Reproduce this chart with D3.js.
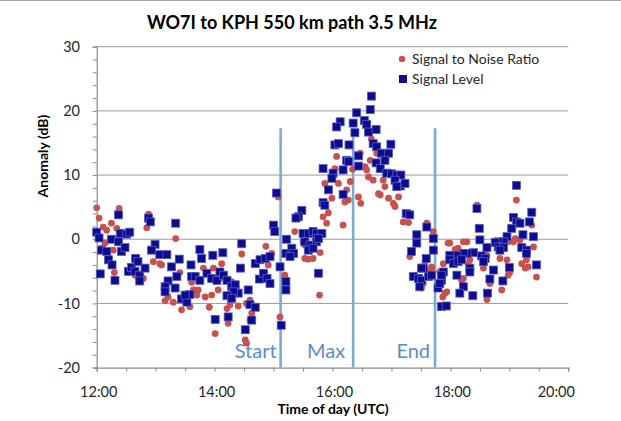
<!DOCTYPE html>
<html><head><meta charset="utf-8">
<script src="https://cdn.jsdelivr.net/npm/d3@7"></script>
<style>body{margin:0;background:#fff;} svg{display:block;}</style>
</head><body>
<script>
const chartTitle = "WO7I to KPH 550 km path 3.5 MHz";
const xTitle = "Time of day (UTC)";
const yTitle = "Anomaly (dB)";
const seriesNames = ["Signal to Noise Ratio", "Signal Level"];
const xTickValues = [12, 14, 16, 18, 20];
const xTickLabels = ["12:00", "14:00", "16:00", "18:00", "20:00"];
const yTickValues = [-20, -10, 0, 10, 20, 30];
const markerTimes = [15.12, 16.35, 17.74];
const markerLabels = ["Start", "Max", "End"];
const markerTop = 17.3;

// [time of day (h UTC), anomaly (dB)]
const snrData = [
[12.00,4.9],[12.04,3.3],[12.11,1.9],[12.17,1.4],[12.25,2.5],[12.34,1.7],[12.38,4.8],[12.42,1.1],
[12.88,3.9],[12.85,1.8],[13.34,0.1],[12.08,-1.4],[12.30,-5.2],[12.96,-3.5],[13.07,-3.8],[13.10,-4.0],
[12.65,-5.6],[12.79,-6.1],[13.41,-5.2],[13.16,-9.6],[13.21,-9.0],[13.30,-9.8],[13.44,-11.0],[13.58,-10.5],
[13.61,-6.7],[14.87,-1.1],[14.46,-2.3],[14.12,-3.8],[13.98,-4.5],[13.81,-4.5],[14.09,-6.1],[13.72,-7.9],
[13.84,-9.0],[13.95,-8.7],[14.06,-7.9],[14.29,-6.6],[14.32,-7.9],[14.60,-9.5],[14.54,-10.0],[13.91,-10.6],
[14.21,-10.8],[14.26,-10.2],[14.40,-10.4],[14.63,-11.5],[14.60,-12.6],[14.01,-14.7],[14.23,-13.1],[14.52,-15.7],
[14.54,-16.2],[15.11,-12.1],[15.19,-5.6],[14.91,-4.0],[13.64,-7.9],[13.70,-8.7],[14.97,-2.2],[15.08,6.6],
[16.66,15.6],[16.75,13.4],[16.47,13.4],[16.07,12.9],[16.64,12.3],[16.55,11.3],[16.58,10.8],[16.61,9.7],
[16.34,10.9],[16.04,11.0],[16.16,10.8],[16.69,9.2],[16.86,9.2],[16.89,8.2],[16.81,6.9],[15.87,8.7],
[16.10,8.7],[16.30,9.0],[15.99,6.4],[16.24,7.7],[16.27,6.1],[16.44,6.6],[16.48,5.6],[16.95,6.4],
[16.78,7.1],[17.03,5.6],[17.06,5.1],[17.12,6.6],[15.84,3.5],[16.21,5.8],[15.90,2.5],[15.93,4.1],
[16.18,2.2],[15.36,1.2],[15.50,-0.4],[15.53,-0.9],[15.79,-2.1],[15.53,-3.0],[15.59,-3.1],[15.67,-3.0],
[15.78,-8.7],[17.20,2.7],[17.29,2.6],[17.71,1.2],[17.96,-0.6],[17.31,-2.7],[17.57,-3.5],[17.68,-4.5],
[17.88,-3.8],[17.82,-5.1],[17.91,-8.4],[17.87,-9.0],[17.54,-6.9],[19.12,6.1],[18.45,5.3],[17.60,2.5],
[19.38,2.2],[17.99,-0.6],[18.22,-0.4],[18.28,-0.4],[18.08,-1.6],[18.13,-1.4],[19.10,0.1],[19.18,-0.1],
[19.07,-0.4],[18.98,-0.4],[19.41,-1.2],[18.59,-2.1],[18.62,-2.5],[18.33,-3.2],[18.30,-3.8],[18.84,-3.0],
[18.96,-3.2],[19.29,-3.2],[19.21,-3.8],[19.27,-4.5],[19.32,-4.3],[18.56,-4.5],[19.01,-5.1],[18.98,-5.6],
[18.22,-6.1],[18.19,-6.4],[18.67,-6.9],[19.46,-5.9],[17.94,-8.2],[18.62,-9.4],[18.87,-7.9],[17.68,-4.3],
[17.65,-4.8],[17.51,-7.6],[12.28,-1.7],[12.14,-0.6]
];

const levelData = [
[12.37,3.8],[12.88,3.3],[13.34,2.5],[12.00,1.1],[12.04,0.2],[12.25,0.0],[12.37,-0.4],[12.40,0.9],
[12.51,0.8],[12.56,1.1],[12.08,-1.7],[12.17,-1.9],[12.20,-3.2],[12.26,-4.0],[12.42,-1.9],[12.48,-1.3],
[12.06,-5.4],[12.31,-6.4],[12.54,-5.0],[12.59,-4.4],[12.66,-3.0],[12.70,-3.5],[12.65,-5.0],[12.73,-5.6],
[12.73,-6.5],[12.82,-4.5],[12.99,-0.8],[12.93,-1.7],[13.07,-2.4],[13.19,-2.4],[13.27,-4.3],[13.40,-3.1],
[13.60,-4.0],[13.21,-6.5],[13.33,-7.6],[13.16,-7.4],[13.16,-8.2],[13.36,-5.8],[13.44,-9.3],[13.53,-9.8],
[13.58,-8.6],[13.61,-5.8],[12.91,2.7],[15.00,2.2],[15.02,1.2],[13.75,-1.6],[13.78,-3.0],[13.97,-2.5],
[14.14,-2.1],[14.46,-0.7],[13.67,-5.8],[13.75,-6.4],[13.87,-5.3],[13.95,-6.1],[14.04,-6.4],[14.09,-5.1],
[14.15,-5.6],[14.21,-6.4],[14.29,-7.4],[14.35,-7.1],[14.40,-8.4],[14.44,-4.5],[14.32,-8.2],[14.21,-8.8],
[14.29,-9.2],[14.57,-7.9],[14.69,-3.8],[14.77,-3.2],[14.86,-3.0],[14.94,-2.7],[14.76,-6.2],[14.83,-5.3],
[14.89,-6.1],[14.94,-6.9],[15.11,-4.3],[14.60,-10.2],[14.69,-10.6],[14.01,-12.5],[14.23,-12.1],[14.63,-12.6],
[14.52,-14.1],[15.13,-13.4],[13.50,-8.7],[15.21,-6.6],[15.21,-7.9],[15.21,-2.2],[15.05,7.2],[16.66,22.3],
[16.64,20.2],[16.41,19.7],[16.35,18.1],[16.13,18.3],[16.07,17.5],[16.54,18.5],[16.58,17.9],[16.61,16.7],
[16.38,16.6],[16.74,17.1],[16.04,14.7],[16.10,14.9],[16.28,14.7],[16.69,14.9],[16.75,14.4],[16.99,14.8],
[16.83,13.4],[16.95,13.4],[16.89,12.3],[16.24,12.3],[16.27,12.1],[16.44,13.0],[16.44,11.4],[16.74,11.9],
[16.81,11.0],[15.84,11.0],[16.01,10.3],[15.99,9.5],[16.18,10.8],[16.92,10.3],[17.00,10.2],[17.09,10.0],
[17.16,10.0],[17.06,9.2],[17.15,8.3],[17.09,8.2],[17.23,8.7],[15.93,7.7],[16.18,7.0],[15.84,5.7],
[15.87,5.3],[15.48,4.5],[15.42,3.5],[17.25,4.0],[17.31,3.8],[15.38,3.3],[15.50,0.9],[15.59,0.9],
[15.67,1.2],[15.73,0.9],[15.82,0.9],[15.22,0.0],[15.53,-0.4],[15.62,-0.9],[15.73,-0.4],[15.76,0.1],
[15.31,-1.4],[15.34,-2.2],[15.28,-2.7],[15.59,-1.7],[15.67,-1.4],[15.76,-5.3],[17.60,1.9],[17.71,0.1],
[17.71,-1.7],[17.43,0.7],[17.43,-0.6],[17.34,-1.9],[17.59,-3.0],[17.54,-4.5],[17.37,-5.8],[17.46,-6.1],
[17.51,-6.4],[17.63,-5.8],[17.68,-5.6],[17.48,-7.4],[17.88,-5.1],[17.85,-6.4],[17.79,-7.6],[17.85,-10.5],
[19.12,8.4],[18.45,4.8],[19.38,4.2],[19.34,2.7],[19.07,3.4],[19.12,2.7],[19.18,2.5],[19.04,1.7],
[18.49,1.7],[19.23,0.7],[19.41,0.4],[18.96,0.4],[18.90,-0.4],[18.81,-0.4],[18.76,-0.5],[18.50,-0.1],
[18.81,-1.2],[18.90,-1.3],[18.84,-1.7],[18.62,-1.3],[19.21,-1.3],[19.29,-1.7],[19.29,-2.2],[18.39,-2.1],
[18.28,-2.2],[18.22,-2.2],[18.11,-2.5],[17.99,-2.5],[18.53,-2.6],[18.59,-3.0],[17.99,-3.2],[18.05,-3.8],
[18.13,-3.5],[18.19,-3.2],[18.33,-4.5],[18.33,-5.1],[18.56,-3.5],[19.00,-4.4],[18.73,-4.8],[19.46,-4.0],
[17.51,-4.5],[17.85,-5.6],[17.82,-6.9],[18.11,-5.6],[18.67,-6.2],[18.89,-6.5],[18.22,-7.4],[18.16,-8.4],
[18.38,-8.8],[18.63,-8.4],[17.93,-10.4]
];

const W = 621, H = 421;
const font = "Lato, 'Open Sans', sans-serif";
const svg = d3.select("body").append("svg").attr("width", W).attr("height", H);

svg.append("line").attr("x1", 0).attr("x2", W).attr("y1", 0.5).attr("y2", 0.5)
  .attr("stroke", "#a6a6a6").attr("stroke-width", 1);

const x = d3.scaleLinear().domain([12, 20]).range([96.7, 568.3]);
const y = d3.scaleLinear().domain([-20, 30]).range([367.6, 46.7]);

// gridlines
svg.append("g").selectAll("line").data(yTickValues.filter(v => v > -20)).join("line")
  .attr("x1", x(12)).attr("x2", x(20)).attr("y1", d => y(d)).attr("y2", d => y(d))
  .attr("stroke", "#9a9a9a").attr("stroke-width", 1);

// y axis
const yAxis = svg.append("g").attr("transform", `translate(${x(12)},0)`)
  .call(d3.axisLeft(y).tickValues(d3.range(-20, 31, 2)).tickSize(4).tickFormat(""));
yAxis.select(".domain").attr("stroke", "#8c8c8c").attr("stroke-width", 1.2);
yAxis.selectAll(".tick line").attr("stroke", "#8c8c8c");
svg.append("g").selectAll("text").data(yTickValues).join("text")
  .attr("x", 80).attr("y", d => y(d)).attr("dy", "0.36em").attr("text-anchor", "end")
  .attr("font-family", font).attr("font-size", 14.5).attr("fill", "#262626").text(d => d);

// x axis
const xAxis = svg.append("g").attr("transform", `translate(0,${y(-20)})`)
  .call(d3.axisBottom(x).tickValues(d3.range(12, 20.01, 0.5)).tickSize(4).tickFormat(""));
xAxis.select(".domain").attr("stroke", "#8c8c8c").attr("stroke-width", 1.2);
xAxis.selectAll(".tick line").attr("stroke", "#8c8c8c");
svg.append("g").selectAll("text").data(xTickValues).join("text")
  .attr("x", (d, i) => x(d) + (i === xTickValues.length - 1 ? -12 : 2)).attr("y", 397).attr("text-anchor", "middle")
  .attr("font-family", font).attr("font-size", 14.5).attr("fill", "#262626").text((d, i) => xTickLabels[i]);

// marker lines
svg.append("g").selectAll("line").data(markerTimes).join("line")
  .attr("x1", d => x(d)).attr("x2", d => x(d)).attr("y1", y(markerTop)).attr("y2", y(-20))
  .attr("stroke", "#7eaad2").attr("stroke-width", 2.6);
svg.append("g").selectAll("text").data(markerTimes).join("text")
  .attr("x", (d, i) => x(d) - [4, 8, 5][i]).attr("y", 358).attr("text-anchor", "end")
  .attr("font-family", font).attr("font-size", 20).attr("fill", "#5b8dc8").text((d, i) => markerLabels[i]);

// series
svg.append("g").selectAll("circle").data(snrData).join("circle")
  .attr("cx", d => x(d[0])).attr("cy", d => y(d[1])).attr("r", 3.4)
  .attr("fill", "#c8504d");
const sq = 8;
svg.append("g").selectAll("rect").data(levelData).join("rect")
  .attr("x", d => x(d[0]) - sq / 2).attr("y", d => y(d[1]) - sq / 2)
  .attr("width", sq).attr("height", sq)
  .attr("fill", "#0c0c8e").attr("stroke", "#5a5ac4").attr("stroke-width", 0.8);

// legend
const leg = svg.append("g");
leg.append("circle").attr("cx", 402).attr("cy", 59).attr("r", 3.2).attr("fill", "#c8504d");
leg.append("rect").attr("x", 399).attr("y", 75).attr("width", 8).attr("height", 8).attr("fill", "#0c0c8e");
leg.selectAll("text").data(seriesNames).join("text")
  .attr("x", 412).attr("y", (d, i) => 64 + i * 20)
  .attr("font-family", font).attr("font-size", 14).attr("fill", "#262626").text(d => d);

// titles
svg.append("text").attr("x", 292).attr("y", 29).attr("text-anchor", "middle")
  .attr("font-family", font).attr("font-weight", "bold").attr("font-size", 18).attr("fill", "#000").text(chartTitle);
svg.append("text").attr("x", 333).attr("y", 414).attr("text-anchor", "middle")
  .attr("font-family", font).attr("font-weight", "bold").attr("font-size", 14).attr("fill", "#000").text(xTitle);
svg.append("text").attr("transform", "translate(48,156) rotate(-90)").attr("text-anchor", "middle")
  .attr("font-family", font).attr("font-weight", "bold").attr("font-size", 14).attr("fill", "#000").text(yTitle);
</script>
</body></html>
